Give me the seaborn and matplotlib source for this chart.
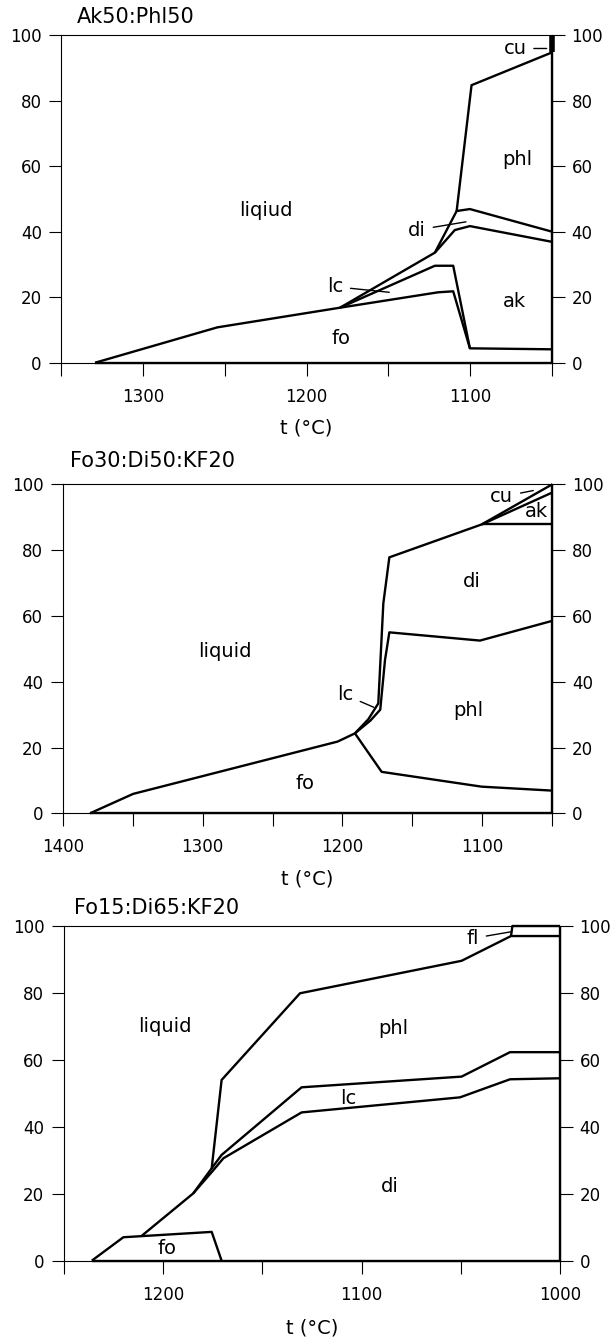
import numpy as np
import pandas as pd
import matplotlib
matplotlib.use("Agg")
import matplotlib.pyplot as plt
import seaborn as sns

# phase boundaries, (t in degC, cumulative %)
# --- Ak50:Phl50 ---
ak_base = [(1329.4, 0), (1050, 0)]
ak_right = [(1050, 0), (1050, 94.7)]
ak_fo = [(1329.4, 0), (1254.6, 10.8), (1179.6, 16.8), (1119.6, 21.5), (1110.4, 21.8), (1100.2, 4.4), (1050, 4.1)]
ak_lc = [(1179.6, 16.8), (1121.6, 29.6), (1110.4, 29.6), (1100.2, 4.4)]
ak_ak = [(1179.6, 16.8), (1121.6, 33.6), (1109.4, 40.5), (1100.2, 41.7), (1050, 36.9)]
ak_di = [(1121.6, 33.6), (1108.3, 46.3), (1100.2, 46.9), (1050, 40.0)]
ak_phl = [(1108.3, 46.3), (1099.2, 84.7), (1050, 94.7)]
ak_cu = [(1050, 94.7), (1050, 100)]

# --- Fo30:Di50:KF20 ---
f30_base = [(1380.5, 0), (1050, 0)]
f30_right = [(1050, 0), (1050, 100)]
f30_liq = [(1380.5, 0), (1349.7, 5.9), (1203.5, 21.8), (1191.1, 24.3), (1181.5, 28.6), (1174.4, 33.4),
           (1170.8, 63.8), (1166.5, 77.8), (1100.5, 87.8), (1050, 97.5)]
f30_cu = [(1100.5, 87.8), (1050, 100)]
f30_fo = [(1191.1, 24.3), (1172.0, 12.6), (1100.5, 8.1), (1050, 6.9)]
f30_phl = [(1191.1, 24.3), (1180.0, 28.2), (1173.0, 31.5), (1169.6, 46.6), (1166.5, 55.0), (1101.7, 52.5), (1050, 58.5)]
f30_di = [(1100.5, 87.8), (1050, 87.8)]

# --- Fo15:Di65:KF20 ---
f15_base = [(1235.9, 0), (1000, 0)]
f15_right = [(1000, 0), (1000, 100)]
f15_fo = [(1235.9, 0), (1220.0, 7.0), (1175.5, 8.6), (1170.5, 0)]
f15_liq = [(1210.8, 7.4), (1184.8, 20.1), (1175.5, 27.6), (1170.5, 54.0), (1131.0, 79.9), (1049.6, 89.6),
           (1024.7, 97.0), (1000, 97.0)]
f15_fl = [(1024.7, 97.0), (1024.0, 100), (1000, 100)]
f15_lc = [(1175.5, 27.6), (1170.5, 31.6), (1130.2, 51.8), (1049.6, 55.0), (1025.2, 62.3), (1000, 62.3)]
f15_di = [(1184.8, 20.1), (1175.0, 26.8), (1169.6, 30.6), (1130.2, 44.3), (1050.4, 48.8), (1025.2, 54.2), (1000, 54.5)]

# phase labels: (text, t, pct) and pointer labels: (text, t, pct, tip_t, tip_pct)
ak_labels = [("liqiud", 1224.7, 46.6), ("phl", 1071.5, 61.9), ("ak", 1072.7, 18.6), ("fo", 1179.2, 7.4)]
ak_pointers = [("di", 1132.6, 40.5, 1102.6, 43.0), ("lc", 1182.7, 23.2, 1149.5, 21.5),
               ("cu", 1072.7, 95.9, 1053.3, 95.9)]
f30_labels = [("liquid", 1283.8, 49.1), ("di", 1107.6, 70.4), ("phl", 1110.0, 31.4), ("fo", 1226.5, 9.1),
              ("ak", 1061.7, 91.7)]
f30_pointers = [("lc", 1198.2, 36.0, 1177.5, 32.2), ("cu", 1086.2, 96.2, 1063.6, 98.1)]
f15_labels = [("liquid", 1199.3, 69.9), ("phl", 1084.0, 69.4), ("lc", 1106.7, 48.5), ("di", 1085.7, 22.1),
              ("fo", 1198.2, 3.7)]
f15_pointers = [("fl", 1044.0, 96.3, 1024.4, 98.3)]


def to_frame(curves):
    rows = []
    for name, pts in curves.items():
        for i, (t, y) in enumerate(pts):
            rows.append((name, i, t, y))
    return pd.DataFrame(rows, columns=["curve", "order", "t", "pct"])


panels = [
    dict(title="Ak50:Phl50", xlim=(1350, 1050), rect=[0.1000, 0.7299, 0.8005, 0.2440], title_xy=(0.031, 1.056),
         curves={"base": ak_base, "right": ak_right, "fo": ak_fo, "lc": ak_lc, "ak": ak_ak, "di": ak_di, "phl": ak_phl},
         thick={"cu": ak_cu}, labels=ak_labels, pointers=ak_pointers),
    dict(title="Fo30:Di50:KF20", xlim=(1400, 1050), rect=[0.1023, 0.3944, 0.7987, 0.2450], title_xy=(0.014, 1.072),
         curves={"base": f30_base, "right": f30_right, "liq": f30_liq, "cu": f30_cu, "fo": f30_fo, "phl": f30_phl,
                 "di": f30_di},
         thick={}, labels=f30_labels, pointers=f30_pointers),
    dict(title="Fo15:Di65:KF20", xlim=(1250, 1000), rect=[0.1041, 0.0613, 0.8095, 0.2492], title_xy=(0.021, 1.054),
         curves={"base": f15_base, "right": f15_right, "fo": f15_fo, "liq": f15_liq, "fl": f15_fl, "lc": f15_lc,
                 "di": f15_di},
         thick={}, labels=f15_labels, pointers=f15_pointers),
]

sns.set_style("ticks")
plt.rcParams["font.family"] = ["DejaVu Sans"]
plt.rcParams["text.color"] = "black"
plt.rcParams["axes.labelcolor"] = "black"

fig = plt.figure(figsize=(6.13, 13.43), dpi=100)

for p in panels:
    ax = fig.add_axes(p["rect"])
    sns.lineplot(data=to_frame(p["curves"]), x="t", y="pct", units="curve", estimator=None, sort=False,
                 color="black", lw=1.7, ax=ax)
    if p["thick"]:
        sns.lineplot(data=to_frame(p["thick"]), x="t", y="pct", units="curve", estimator=None, sort=False,
                     color="black", lw=4, ax=ax)
    for line in ax.lines:
        line.set_clip_on(False)
        line.set_solid_capstyle("butt")

    hi, lo = p["xlim"]
    ax.set_xlim(hi, lo)
    ax.set_ylim(0, 100)
    xt = np.arange(lo, hi + 1, 50)
    ax.set_xticks(xt)
    ax.set_xticklabels([str(int(v)) if v % 100 == 0 else "" for v in xt])
    ax.set_yticks(np.arange(0, 101, 20))
    ax.tick_params(axis="both", direction="out", length=9, width=0.8, labelsize=12, colors="black")
    ax.tick_params(axis="x", pad=9)
    ax.tick_params(axis="y", pad=5, right=True, labelright=True)
    for s in ax.spines.values():
        s.set_linewidth(0.8)
        s.set_color("black")
        s.set_visible(True)

    ax.set_xlabel("t (°C)", fontsize=14, color="black")
    ax.set_ylabel("")
    ax.xaxis.set_label_coords(0.5, -0.20)
    ax.xaxis.label.set_va("center")
    ax.text(p["title_xy"][0], p["title_xy"][1], p["title"], transform=ax.transAxes,
            fontsize=15, ha="left", va="center", color="black")

    for txt, t, y in p["labels"]:
        ax.text(t, y, txt, fontsize=14, ha="center", va="center", color="black")
    for txt, t, y, tt, ty in p["pointers"]:
        ax.annotate(txt, xy=(tt, ty), xytext=(t, y), fontsize=14, ha="center", va="center", color="black",
                    arrowprops=dict(arrowstyle="-", color="black", lw=1, shrinkA=3, shrinkB=0))

fig.savefig("out.png", dpi=100)
